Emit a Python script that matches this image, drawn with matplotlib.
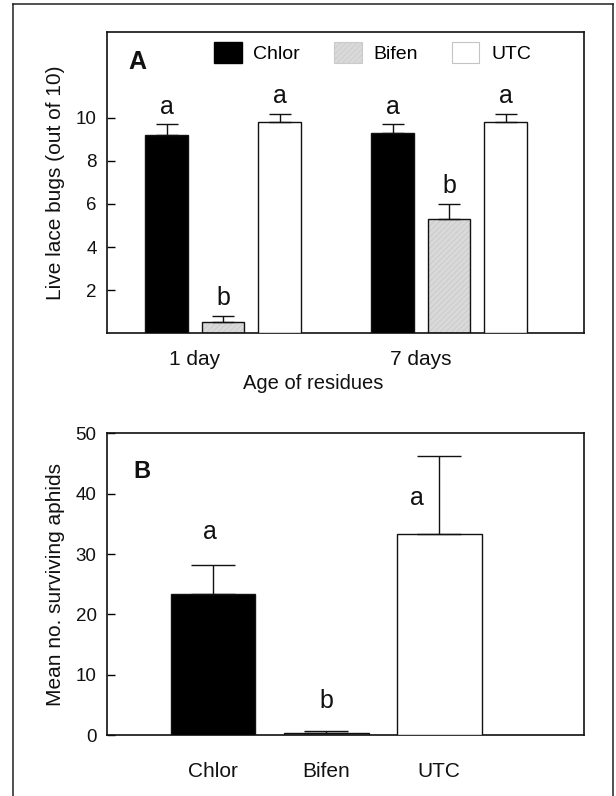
import numpy as np
import matplotlib.pyplot as plt
from matplotlib.patches import Patch
from matplotlib.lines import Line2D

plt.rcParams['font.family'] = ['Liberation Sans', 'DejaVu Sans']
plt.rcParams['hatch.linewidth'] = 0.5

# panel A data
ages = ['1 day', '7 days']
treatments = ['Chlor', 'Bifen', 'UTC']
lace_mean = {'Chlor': [9.2, 9.3], 'Bifen': [0.5, 5.3], 'UTC': [9.8, 9.8]}
lace_se = {'Chlor': [0.5, 0.4], 'Bifen': [0.3, 0.7], 'UTC': [0.4, 0.4]}
lace_letters = {'Chlor': ['a', 'a'], 'Bifen': ['b', 'b'], 'UTC': ['a', 'a']}

# panel B data
aphid_mean = [23.4, 0.4, 33.4]
aphid_se = [4.8, 0.3, 12.8]
aphid_letters = ['a', 'b', 'a']
aphid_letter_y = [32.5, 4.5, 38.2]

fill = {'Chlor': 'black', 'Bifen': '#d9d9d9', 'UTC': 'white'}
ink = '#111111'

fig = plt.figure(figsize=(6.16, 7.96), dpi=100)
axA = fig.add_axes([0.1732, 0.5814, 0.7748, 0.3788])
axB = fig.add_axes([0.1732, 0.0763, 0.7748, 0.3794])

def draw_bar(ax, x, h, w, name):
    if name == 'Bifen':
        ax.bar(x, h, w, color=fill[name], edgecolor='#c6c6c6', hatch='//////', linewidth=0, zorder=2)
        ax.bar(x, h, w, fill=False, edgecolor=ink, linewidth=1.0, zorder=3)
    else:
        ax.bar(x, h, w, color=fill[name], edgecolor=ink, linewidth=1.0, zorder=3)

# ---- panel A
gx = np.arange(len(ages))
offs = [-0.25, 0.0, 0.25]
bw = 0.188
for t, o in zip(treatments, offs):
    xs = gx + o
    for x, m, s, lt in zip(xs, lace_mean[t], lace_se[t], lace_letters[t]):
        draw_bar(axA, x, m, bw, t)
        axA.errorbar(x, m, yerr=[[0], [s]], fmt='none', ecolor=ink, elinewidth=1.0,
                     capsize=7.8, capthick=1.0, zorder=4)
        axA.text(x, m + s + 0.5, lt, ha='center', va='baseline', fontsize=18, color=ink)

axA.set_xlim(-0.515, 1.597)
axA.set_ylim(0, 14)
axA.set_yticks([2, 4, 6, 8, 10])
axA.set_xticks(gx - 0.125)
axA.set_xticklabels(ages, fontsize=15, color=ink)
axA.tick_params(axis='x', length=0, pad=12)
axA.set_xlabel('Age of residues', fontsize=14.5, color=ink)
axA.xaxis.set_label_coords(0.432, -0.135)
axA.text(0.045, 0.939, 'A', transform=axA.transAxes, fontsize=18, fontweight='bold',
         ha='left', va='top', color=ink)

handles = [Patch(facecolor='black', edgecolor='black'),
           Patch(facecolor='#d9d9d9', edgecolor='#cacaca', hatch='//////', linewidth=0.8),
           Patch(facecolor='white', edgecolor='#c4c4c4', linewidth=0.8)]
axA.legend(handles, treatments, ncol=3, loc='upper left', bbox_to_anchor=(0.2248, 0.967),
           frameon=False, fontsize=14, handlelength=1.42, handleheight=1.3,
           handletextpad=0.6, columnspacing=1.75, borderpad=0, borderaxespad=0)

# ---- panel B
bx = np.arange(len(treatments))
for x, t, m, s in zip(bx, treatments, aphid_mean, aphid_se):
    draw_bar(axB, x, m, 0.75, t)
    axB.errorbar(x, m, yerr=[[0], [s]], fmt='none', ecolor=ink, elinewidth=1.0,
                 capsize=15.6, capthick=1.0, zorder=4)
letter_dx = [-0.03, 0.0, -0.2]
for x, lt, ly, dx in zip(bx, aphid_letters, aphid_letter_y, letter_dx):
    axB.text(x + dx, ly, lt, ha='center', va='baseline', fontsize=18, color=ink)

axB.set_xlim(-0.94, 3.28)
axB.set_ylim(0, 50)
axB.set_yticks([0, 10, 20, 30, 40, 50])
axB.set_xticks(bx)
axB.set_xticklabels(treatments, fontsize=15, color=ink)
axB.tick_params(axis='x', length=0, pad=19)
axB.text(0.055, 0.912, 'B', transform=axB.transAxes, fontsize=17, fontweight='bold',
         ha='left', va='top', color=ink)

for ax in (axA, axB):
    for sp in ax.spines.values():
        sp.set_linewidth(1.2)
        sp.set_color(ink)
    ax.tick_params(axis='y', direction='in', length=5.8, width=1.0, pad=7.2,
                   labelsize=13.5, labelcolor=ink)

fig.text(0.0893, 0.7708, 'Live lace bugs (out of 10)', rotation=90, ha='center',
         va='center', fontsize=15, color=ink)
fig.text(0.0893, 0.2661, 'Mean no. surviving aphids', rotation=90, ha='center',
         va='center', fontsize=15, color=ink)

# outer frame, open at the bottom
fx0, fx1, fy1 = 13.3 / 616, 613 / 616, 1 - 4 / 796
for xs, ys in [([fx0, fx0], [-0.01, fy1]), ([fx0, fx1], [fy1, fy1]), ([fx1, fx1], [fy1, -0.01])]:
    fig.add_artist(Line2D(xs, ys, transform=fig.transFigure, color='#222222', lw=1.1))

fig.savefig('out.png', dpi=100)
